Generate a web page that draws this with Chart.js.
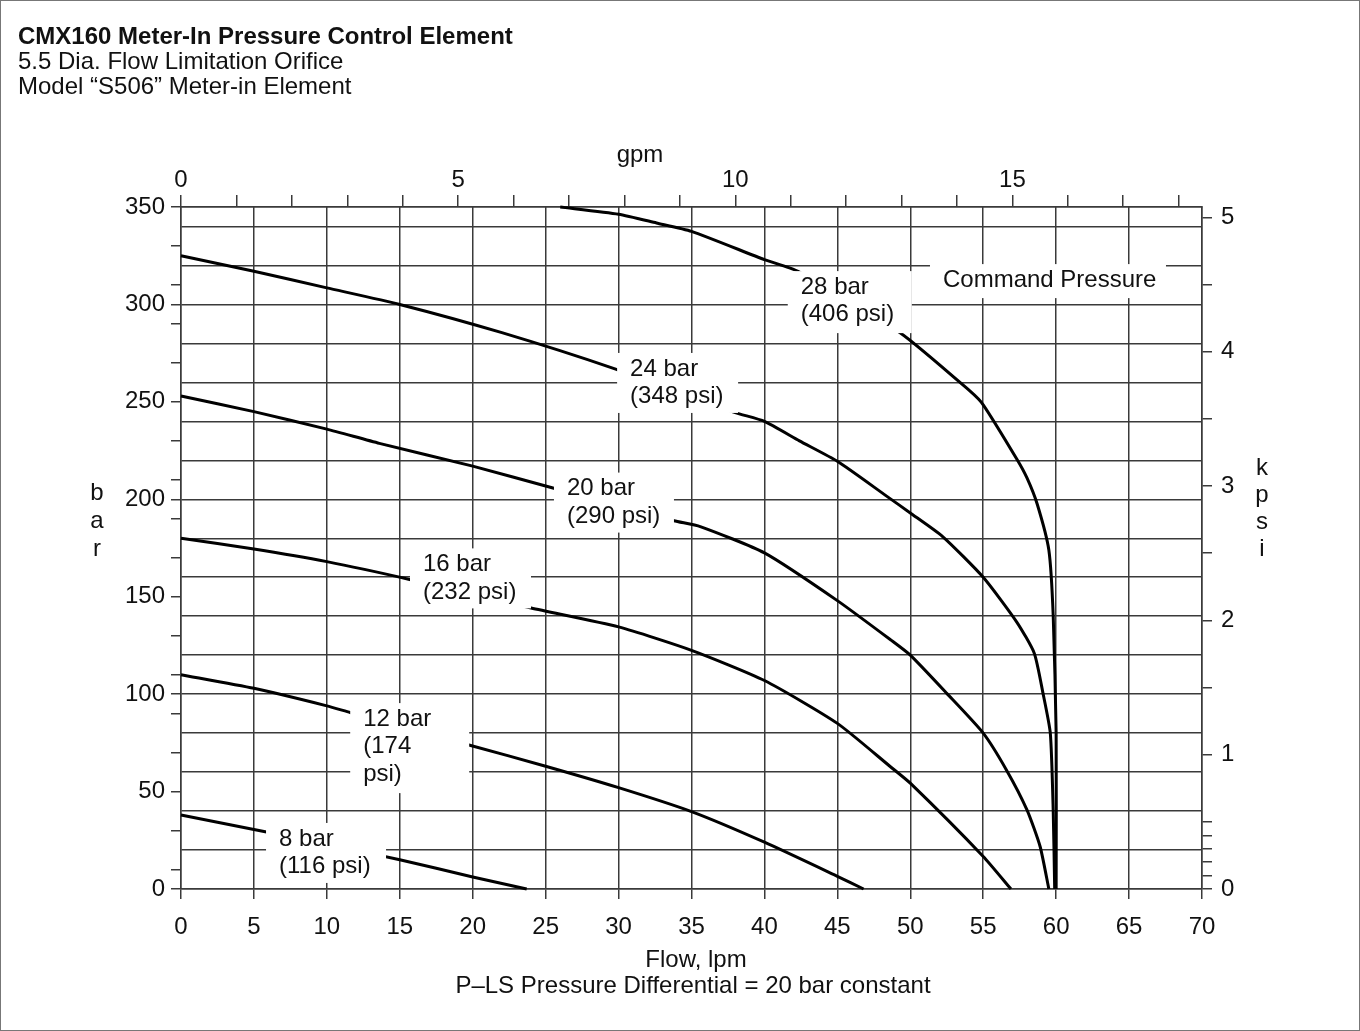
<!DOCTYPE html>
<html>
<head>
<meta charset="utf-8">
<title>CMX160 Meter-In Pressure Control Element</title>
<script src="https://cdn.jsdelivr.net/npm/chart.js@4.4.1/dist/chart.umd.min.js"></script>
<style>
html,body{margin:0;padding:0;background:#fff;}
#wrap{position:relative;width:1360px;height:1031px;}
</style>
</head>
<body>
<div id="wrap"><canvas id="chartCmx"></canvas></div>
<script>
// ─── DATA ───────────────────────────────────────────────────────────
// flow in lpm, pressure in bar; one curve per command pressure
const curve8  = [[0,38],[5,30.5],[10,23],[15,15],[20,6.2],[23.7,0]];
const curve12 = [[0,110],[5,103],[10,94],[11.6,90.6],[19.8,73.8],[25,63],[30,52],[35,39.7],[40,24],[45,6.5],[46.8,0]];
const curve16 = [[0,180],[5,174.5],[10,168],[15.6,159],[24,144.2],[30,134.5],[35,122.5],[40,107],[45,85],[48.6,63],[50,54.3],[55,16.7],[56.9,0]];
const curve20 = [[0,253],[5,245],[10,236],[13.6,228.7],[20,217],[25.5,205.8],[33.8,189],[35.6,186],[40,172.5],[45,148],[48.7,127.6],[50,120],[52.5,100.4],[55,80],[56.6,61],[58,40.6],[58.9,21.8],[59.5,0]];
const curve24 = [[0,325],[5,317],[10,308.5],[15,300],[22,285.5],[29.8,266.8],[38,244.5],[40,240],[42.4,230],[45,219.5],[48.4,201.5],[50,193],[52.2,181],[55,160],[57.3,137],[58.5,121],[59.1,100.4],[59.6,80],[59.8,40],[59.9,0]];
const curve28 = [[26,350],[30,346.3],[32.6,341.8],[35,337.5],[40,323],[42.3,317],[49.3,285.5],[54.1,255.5],[55,248.5],[57.3,220.7],[58,211],[58.7,197.6],[59.5,174],[59.8,140],[60,80],[60,0]];

const curveLabels = [
  ['8 bar','(116 psi)'],
  ['12 bar','(174','psi)'],
  ['16 bar','(232 psi)'],
  ['20 bar','(290 psi)'],
  ['24 bar','(348 psi)'],
  ['28 bar','(406 psi)'],
  ['Command Pressure']
];

const flowTicks = [0,5,10,15,20,25,30,35,40,45,50,55,60,65,70];
const barTicks  = [0,10,20,30,40,50,60,70,80,90,100,110,120,130,140,150,160,170,180,190,200,
                   210,220,230,240,250,260,270,280,290,300,310,320,330,340,350];
const gpmTicks  = [0,1,2,3,4,5,6,7,8,9,10,11,12,13,14,15,16,17,18];
const kpsiTicks = [0,0.1,0.2,0.3,0.4,0.5,1,1.5,2,2.5,3,3.5,4,4.5,5];

const LPM_PER_GPM = 3.8;
const BAR_PER_KPSI = 68.9476;
const FLOW_MAX = 70, BAR_MAX = 350;

// ─── LAYOUT ─────────────────────────────────────────────────────────
// label boxes: top-left corner in (lpm, bar), size in px
const labelBoxes = [
  {lpm:5.83,  bar:33.9,  w:120, h:60},
  {lpm:11.6,  bar:95.4,  w:119, h:90},
  {lpm:15.7,  bar:174.8, w:121, h:60},
  {lpm:25.57, bar:213.7, w:120, h:60},
  {lpm:29.9,  bar:275.1, w:121, h:60},
  {lpm:41.6,  bar:317.1, w:124, h:62},
  {lpm:51.35, bar:320.7, w:236, h:34}
];

const FONT_FAMILY = '"Liberation Sans", Arial, Helvetica, sans-serif';
const INK = '#111';
const GRID = '#3a3a3a';
Chart.defaults.font.family = FONT_FAMILY;
Chart.defaults.font.size = 24;
Chart.defaults.color = INK;

const setTicks = list => scale => { scale.ticks = list.map(v=>({value:v})); };

// ─── ANNOTATIONS ────────────────────────────────────────────────────
const annotate = {
  id:'annotate',
  afterDatasetsDraw(chart){
    const {ctx, scales:{x,y}} = chart;
    ctx.save();
    ctx.font = '24px ' + FONT_FAMILY;
    ctx.textBaseline = 'middle';
    curveLabels.forEach((lines,i)=>{
      const b = labelBoxes[i];
      const left = x.getPixelForValue(b.lpm), top = y.getPixelForValue(b.bar);
      ctx.fillStyle = '#fff';
      ctx.fillRect(left, top, b.w, b.h);
      ctx.fillStyle = INK;
      lines.forEach((t,k)=>ctx.fillText(t, left+13, top+16+k*27.5));
    });
    ctx.restore();
  },
  afterDraw(chart){
    const {ctx, width, height} = chart;
    ctx.save();
    // frame
    ctx.strokeStyle = '#777';
    ctx.lineWidth = 1;
    ctx.strokeRect(0.5, 0.5, width-1, height-1);
    ctx.fillStyle = INK;
    ctx.textBaseline = 'middle';
    ctx.textAlign = 'left';
    ctx.font = 'bold 24px ' + FONT_FAMILY;
    ctx.fillText('CMX160 Meter-In Pressure Control Element', 18, 37);
    ctx.font = '24px ' + FONT_FAMILY;
    ctx.fillText('5.5 Dia. Flow Limitation Orifice', 18, 62);
    ctx.fillText('Model \u201CS506\u201D Meter-in Element', 18, 87);
    // axis titles
    ctx.textAlign = 'center';
    ctx.fillText('gpm', 640, 155);
    ['b','a','r'].forEach((c,i)=>ctx.fillText(c, 97, 493+i*28));
    ['k','p','s','i'].forEach((c,i)=>ctx.fillText(c, 1262, 468+i*27));
    ctx.fillText('Flow, lpm', 696, 960);
    ctx.fillText('P\u2013LS Pressure Differential = 20 bar constant', 693, 986);
    ctx.restore();
  }
};

// ─── CHART ──────────────────────────────────────────────────────────
const curves = [curve8, curve12, curve16, curve20, curve24, curve28];
const datasets = curves.map((c,i)=>({
  label: curveLabels[i][0],
  data: c.map(([f,p])=>({x:f, y:p})),
  borderColor:'#000',
  borderWidth:3,
  pointRadius:0,
  tension:0.2,
  fill:false,
  clip:false
}));

new Chart(document.getElementById('chartCmx'), {
  type:'line',
  data:{datasets},
  plugins:[annotate],
  options:{
    responsive:true,
    maintainAspectRatio:false,
    animation:false,
    layout:{padding:0},
    plugins:{legend:{display:false}, tooltip:{enabled:false}},
    scales:{
      x:{
        type:'linear', position:'bottom', min:0, max:FLOW_MAX,
        afterBuildTicks:setTicks(flowTicks),
        afterFit:s=>{ s.height = 142; },
        ticks:{padding:14, maxRotation:0, autoSkip:false},
        grid:{color:GRID, lineWidth:1.5, tickLength:10},
        border:{color:GRID, width:1.5}
      },
      gpm:{
        type:'linear', position:'top', min:0, max:FLOW_MAX/LPM_PER_GPM,
        afterBuildTicks:setTicks(gpmTicks),
        afterFit:s=>{ s.height = 207; },
        ticks:{padding:0, maxRotation:0, autoSkip:false, callback:v=>v%5===0?v:''},
        grid:{drawOnChartArea:false, color:GRID, lineWidth:1.5, tickLength:12},
        border:{color:GRID, width:1.5}
      },
      y:{
        type:'linear', position:'left', min:0, max:BAR_MAX,
        afterBuildTicks:setTicks(barTicks),
        afterFit:s=>{ s.width = 181; },
        ticks:{padding:6, autoSkip:false, callback:v=>v%50===0?v:''},
        grid:{
          lineWidth:1.5, tickLength:10,
          color:c=>(c.tick && (c.tick.value%20===0 || c.tick.value===BAR_MAX)) ? GRID : 'rgba(0,0,0,0)',
          tickColor:c=>(c.tick && c.tick.value%20===0 && c.tick.value%100!==0) ? 'rgba(0,0,0,0)' : GRID
        },
        border:{color:GRID, width:1.5}
      },
      kpsi:{
        type:'linear', position:'right', min:0, max:BAR_MAX/BAR_PER_KPSI,
        afterBuildTicks:setTicks(kpsiTicks),
        afterFit:s=>{ s.width = 158; },
        ticks:{padding:9, autoSkip:false, callback:v=>Number.isInteger(v)?v:''},
        grid:{drawOnChartArea:false, color:GRID, lineWidth:1.5, tickLength:10},
        border:{color:GRID, width:1.5}
      }
    }
  }
});
</script>
</body>
</html>
